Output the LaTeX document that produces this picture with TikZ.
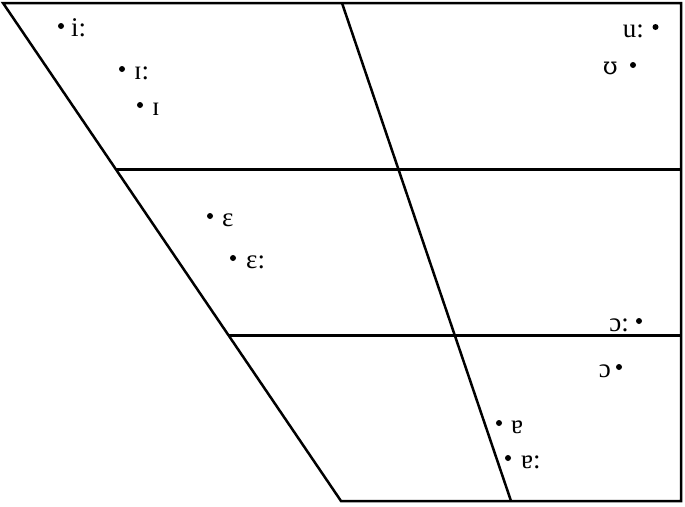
\documentclass[tikz,border=0pt]{standalone}
\usepackage{fontspec}
\setmainfont{Liberation Serif}
\newfontfamily\ipaalt{DejaVu Serif}
\begin{document}
\begin{tikzpicture}[x=1pt,y=-1pt,
  frame/.style={line width=2.5pt,black},
  grid/.style={line width=2.1pt,black},
  vdot/.style={circle,fill=black,inner sep=0pt,minimum size=6pt},
  vl/.style={inner sep=0pt,font=\fontsize{27}{29}\selectfont,anchor=base west},
  vr/.style={inner sep=0pt,font=\fontsize{27}{29}\selectfont,anchor=base east}]
\useasboundingbox (0,0) rectangle (685,506);
% frame corners
\coordinate (tl) at (3,3);
\coordinate (tr) at (681,3);
\coordinate (br) at (681,501);
\coordinate (bl) at (341,501);
\coordinate (tm) at (342,3);
\coordinate (bm) at (511,501);
\coordinate (h1l) at (116,169.5);
\coordinate (h1r) at (681,169.5);
\coordinate (h2l) at (229,335.5);
\coordinate (h2r) at (681,335.5);
\draw[frame,line join=miter] (tl) -- (tr) -- (br) -- (bl) -- cycle;
\draw[frame] (tm) -- (bm);
\draw[grid] (h1l) -- (h1r);
\draw[grid] (h2l) -- (h2r);
% vowels
\node[vdot] (di) at (61,26) {};
\node[vl] (li) at (71,36) {i:};
\node[vdot] (dII) at (122,69) {};
\node[vl] (lII) at (134,79) {ɪ:};
\node[vdot] (dI) at (140,105) {};
\node[vl] (lI) at (152,115) {ɪ};
\node[vdot] (du) at (655.5,27) {};
\node[vr] (lu) at (644,37) {u:};
\node[vdot] (dU) at (633,65) {};
\node[vr,font=\fontsize{24}{26}\selectfont\ipaalt] (lU) at (618,74) {ʊ};
\node[vdot] (dE) at (210,216) {};
\node[vl] (lE) at (222,226) {ɛ};
\node[vdot] (dEE) at (233,258) {};
\node[vl] (lEE) at (246,268) {ɛ:};
\node[vdot] (dOO) at (639,321) {};
\node[vr] (lOO) at (629,331) {ɔ:};
\node[vdot] (dO) at (619,367) {};
\node[vr] (lO) at (611,377) {ɔ};
\node[vdot] (dA) at (499,423) {};
\node[vl] (lA) at (511,433) {ɐ};
\node[vdot] (dAA) at (508,458) {};
\node[vl] (lAA) at (521,468) {ɐ:};
\end{tikzpicture}
\end{document}
